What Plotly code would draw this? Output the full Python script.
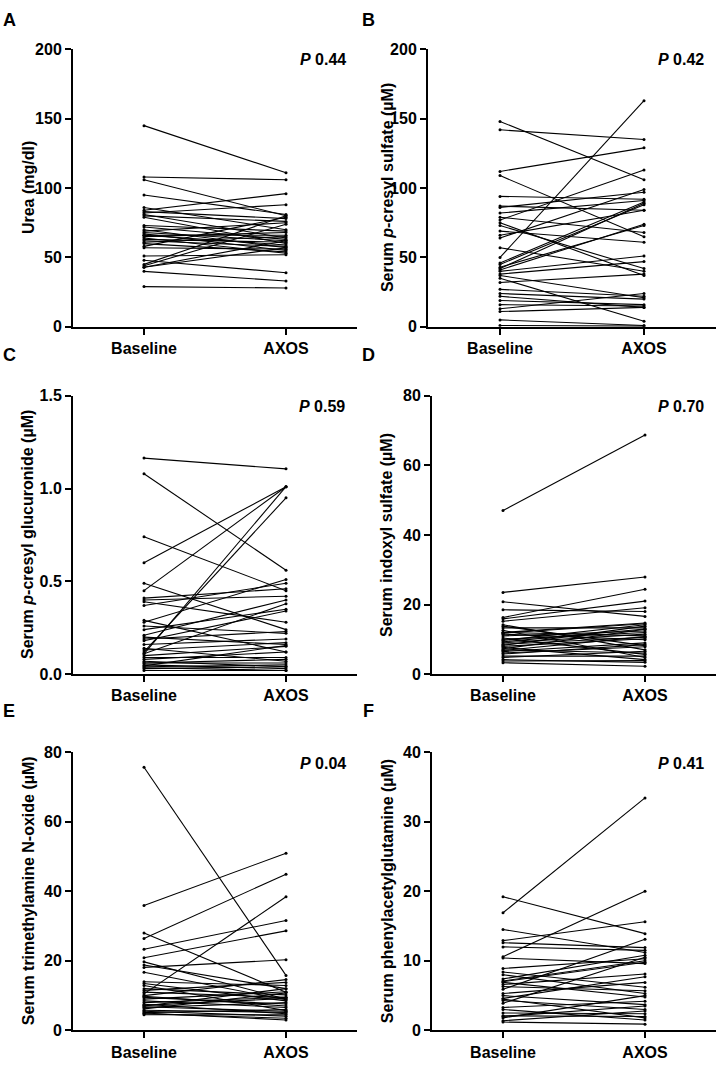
import plotly.graph_objects as go

# ---------------- data ----------------
categories = ["Baseline", "AXOS"]

urea_baseline = [145, 108, 106, 95, 86, 84, 83, 82, 81, 80, 79, 73, 72, 70, 69, 68, 67, 66, 66, 65,
                 64, 63, 62, 61, 60, 58, 57, 51, 48, 45, 44, 43, 43, 40, 29]
urea_axos = [111, 106, 80, 81, 70, 96, 78, 88, 64, 76, 60, 69, 63, 57, 75, 62, 55, 66, 59, 68,
             53, 61, 58, 65, 54, 79, 56, 52, 39, 80, 74, 57, 62, 33, 28]

pcs_baseline = [148, 142, 112, 109, 94, 87, 86, 82, 79, 77, 75, 73, 69, 66, 64, 57, 50, 46, 45, 43,
                42, 41, 40, 38, 37, 35, 32, 27, 24, 22, 19, 16, 13, 11, 5, 1]
pcs_axos = [106, 135, 129, 65, 92, 84, 97, 91, 68, 113, 37, 42, 61, 84, 99, 40, 163, 90, 88, 73,
            89, 74, 51, 47, 21, 4, 38, 22, 20, 14, 16, 15, 24, 14, 1, 0.5]

pcg_baseline = [1.164, 1.08, 0.74, 0.60, 0.49, 0.45, 0.41, 0.40, 0.39, 0.37, 0.29, 0.28, 0.26, 0.24,
                0.21, 0.20, 0.19, 0.18, 0.16, 0.14, 0.12, 0.11, 0.11, 0.10, 0.09, 0.08, 0.07, 0.06,
                0.05, 0.045, 0.035, 0.03, 0.02, 0.13, 0.06, 0.04]
pcg_axos = [1.106, 0.56, 0.45, 1.01, 0.24, 1.01, 0.46, 0.42, 0.28, 0.49, 0.12, 0.51, 0.22, 0.35,
            0.40, 0.16, 0.23, 0.34, 0.19, 0.07, 0.95, 1.01, 0.38, 0.15, 0.09, 0.12, 0.04, 0.06,
            0.03, 0.155, 0.02, 0.04, 0.02, 0.17, 0.08, 0.05]

is_baseline = [47, 23.5, 20.8, 18.5, 16.3, 15.9, 15.2, 14.2, 13.3, 12.6, 12.0, 11.5, 11.0, 10.4, 9.7,
               9.0, 8.6, 8.3, 7.7, 7.3, 7.0, 6.5, 6.1, 5.2, 4.2, 3.3, 12.0, 10.0, 8.0,
               6.8, 5.8, 9.3, 13.8, 4.8, 3.8, 11.8]
is_axos = [68.7, 27.9, 16.6, 18.0, 24.4, 21.0, 19.1, 7.0, 13.3, 4.8, 14.7, 9.9, 12.4, 5.7, 14.2,
           11.5, 10.6, 13.8, 4.2, 12.9, 6.1, 9.0, 7.9, 5.2, 3.4, 2.3, 11.0, 12.0, 10.2,
           10.8, 8.5, 13.0, 8.2, 6.6, 3.9, 14.5]

tmao_baseline = [75.6, 35.9, 28.0, 26.4, 23.3, 20.9, 19.7, 18.8, 18.1, 16.7, 14.0, 12.9, 12.0, 11.5,
                 11.0, 10.5, 10.0, 9.5, 9.0, 8.5, 8.0, 7.5, 7.0, 6.6, 6.2, 5.8, 5.5, 5.1, 4.8, 4.5,
                 13.5, 7.2, 6.8, 9.8, 5.0]
tmao_axos = [15.8, 50.9, 11.0, 44.9, 31.6, 28.6, 9.0, 12.0, 20.3, 8.8, 12.9, 5.7, 10.2, 13.8,
             9.5, 38.4, 14.6, 7.6, 11.1, 6.6, 9.5, 4.8, 12.0, 8.0, 10.8, 5.2, 4.1, 6.0, 3.5, 4.5,
             8.5, 9.2, 5.5, 7.0, 3.0]

pag_baseline = [16.9, 19.2, 14.5, 12.9, 12.6, 12.0, 10.4, 10.6, 8.9, 8.4, 8.0, 7.4, 7.1, 6.9, 6.6,
                6.3, 5.9, 5.3, 5.0, 4.6, 4.3, 3.9, 3.3, 3.0, 2.5, 2.1, 1.8, 1.4, 1.2, 7.0, 4.5, 2.0]
pag_axos = [33.4, 13.9, 11.2, 15.6, 11.9, 11.5, 9.6, 20.0, 10.3, 6.2, 5.3, 10.8, 10.0, 4.8, 8.1,
            5.7, 13.1, 6.9, 3.7, 7.7, 3.0, 10.5, 4.2, 1.5, 2.4, 2.0, 5.0, 2.8, 0.9, 9.8, 1.8, 3.5]

panel_letters = ["A", "B", "C", "D", "E", "F"]
p_values = ["0.44", "0.42", "0.59", "0.70", "0.04", "0.41"]
y_titles = ["Urea (mg/dl)",
            "Serum <i>p</i>-cresyl sulfate (µM)",
            "Serum <i>p</i>-cresyl glucuronide (µM)",
            "Serum indoxyl sulfate (µM)",
            "Serum trimethylamine N-oxide (µM)",
            "Serum phenylacetylglutamine (µM)"]
y_ranges = [(0, 200, 50), (0, 200, 50), (0, 1.5, 0.5), (0, 80, 20), (0, 80, 20), (0, 40, 10)]

series = [(urea_baseline, urea_axos), (pcs_baseline, pcs_axos), (pcg_baseline, pcg_axos),
          (is_baseline, is_axos), (tmao_baseline, tmao_axos), (pag_baseline, pag_axos)]

# ---------------- layout geometry (pixels) ----------------
W, H = 718, 1066
FONT = "Liberation Sans, Arial, sans-serif"
x_px = [(73, 357), (428, 716), (73, 357), (432, 716), (73, 357), (432, 716)]
y_px = [(42, 324), (42, 324), (394, 677), (394, 677), (756, 1039), (756, 1039)]
title_x = [28, 387, 28, 387, 28, 387]
letter_pos = [(9, 12), (368, 12), (9, 353), (368, 353), (9, 714), (368, 714)]
pval_pos = [(348, 52), (706, 52), (347, 405), (706, 405), (348, 768), (706, 768)]

fig = go.Figure()
annotations = []

for i, ((b, a), (y0, y1, dt)) in enumerate(zip(series, y_ranges)):
    k = i + 1
    xs, ys = [], []
    for vb, va in zip(b, a):
        xs += [0, 1, None]
        ys += [vb, va, None]
    fig.add_trace(go.Scatter(
        x=xs, y=ys, mode="lines+markers",
        line=dict(color="black", width=1.1),
        marker=dict(color="black", size=3),
        xaxis=f"x{k}", yaxis=f"y{k}", showlegend=False, hoverinfo="skip",
    ))
    xd = [x_px[i][0] / W, x_px[i][1] / W]
    yd = [1 - y_px[i][1] / H, 1 - y_px[i][0] / H]
    fig.update_layout(**{
        f"xaxis{k}": dict(
            domain=xd, anchor=f"y{k}", range=[-0.5, 1.5],
            tickmode="array", tickvals=[0, 1], ticktext=categories,
            showline=True, linecolor="black", linewidth=2,
            ticks="outside", ticklen=6, tickwidth=2, tickcolor="black",
            showgrid=False, zeroline=False,
            tickfont=dict(family=FONT, size=16, color="black", weight="bold"),
        ),
        f"yaxis{k}": dict(
            domain=yd, anchor=f"x{k}", range=[y0, y1], dtick=dt, tick0=0,
            tickformat=".1f" if dt < 1 else "d",
            showline=True, linecolor="black", linewidth=2,
            ticks="outside", ticklen=6, tickwidth=2, tickcolor="black",
            showgrid=False, zeroline=False,
            tickfont=dict(family=FONT, size=16, color="black", weight="bold"),
        ),
    })
    # y title
    annotations.append(dict(
        text=y_titles[i], textangle=-90, xref="paper", yref="paper",
        x=title_x[i] / W, y=(yd[0] + yd[1]) / 2, xanchor="center", yanchor="middle",
        showarrow=False, font=dict(family=FONT, size=16, color="black", weight="bold"),
    ))
    # panel letter
    lx, ly = letter_pos[i]
    annotations.append(dict(
        text=panel_letters[i], xref="paper", yref="paper",
        x=lx / W, y=1 - ly / H, xanchor="center", yanchor="middle",
        showarrow=False, font=dict(family=FONT, size=18, color="black", weight="bold"),
    ))
    # p value
    px, py = pval_pos[i]
    annotations.append(dict(
        text=f"<i>P</i> {p_values[i]}", xref="paper", yref="paper",
        x=px / W, y=1 - py / H, xanchor="right", yanchor="middle",
        showarrow=False, font=dict(family=FONT, size=16, color="black", weight="bold"),
    ))

fig.update_layout(
    width=W, height=H, autosize=False,
    margin=dict(l=0, r=0, t=0, b=0),
    paper_bgcolor="white", plot_bgcolor="white",
    annotations=annotations,
    font=dict(family=FONT, color="black"),
)

fig.write_html(
    "out.html",
    config={"displayModeBar": False},
    post_script="document.body.style.margin='0px';document.body.style.overflow='hidden';",
)
